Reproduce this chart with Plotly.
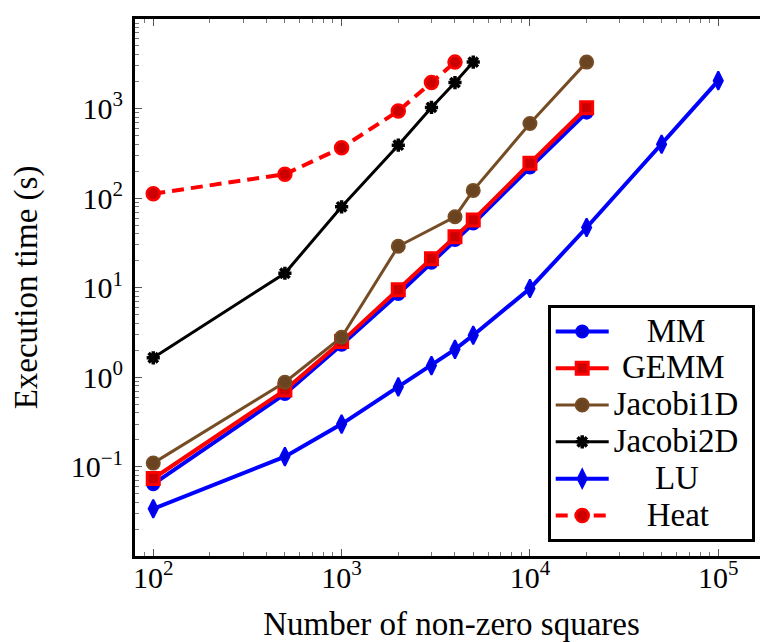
import plotly.graph_objects as go
import numpy as np

# ---- data ----
x_mm = [100, 500, 1000, 2000, 3000, 4000, 5000, 10000, 20000]
y_mm = [0.064, 0.65, 2.3, 8.5, 19, 34, 52, 220, 900]

x_gemm = [100, 500, 1000, 2000, 3000, 4000, 5000, 10000, 20000]
y_gemm = [0.074, 0.72, 2.5, 9.5, 21, 37, 57, 245, 1020]

x_j1d = [100, 500, 1000, 2000, 4000, 5000, 10000, 20000]
y_j1d = [0.11, 0.88, 2.8, 29, 62, 122, 680, 3300]

x_j2d = [100, 500, 1000, 2000, 3000, 4000, 5000]
y_j2d = [1.65, 14.5, 80, 390, 1030, 1950, 3300]

x_lu = [100, 500, 1000, 2000, 3000, 4000, 5000, 10000, 20000, 50000, 100000]
y_lu = [0.034, 0.13, 0.30, 0.78, 1.35, 2.05, 2.95, 9.8, 47, 400, 2050]

x_heat = [100, 500, 1000, 2000, 3000, 4000]
y_heat = [112, 185, 365, 940, 1950, 3300]

series_names = ["MM", "GEMM", "Jacobi1D", "Jacobi2D", "LU", "Heat"]

x_tick_vals = [1e2, 1e3, 1e4, 1e5]
x_tick_text = ["10<sup>2</sup>", "10<sup>3</sup>", "10<sup>4</sup>", "10<sup>5</sup>"]
y_tick_vals = [1e-1, 1e0, 1e1, 1e2, 1e3, 1e4]
y_tick_text = ["10<sup>\u22121</sup>", "10<sup>0</sup>", "10<sup>1</sup>",
               "10<sup>2</sup>", "10<sup>3</sup>", "10<sup>4</sup>"]

FONT = "Liberation Serif"
NB = "\u00a0"
pad = {"MM": 4, "GEMM": 1, "Jacobi1D": 0, "Jacobi2D": 0, "LU": 5, "Heat": 4}

fig = go.Figure()

def label(name):
    tail = NB if pad[name] == 0 else ""
    return "<span style='font-size:33px'>" + NB * pad[name] + name + tail + "</span>"

def add(xs, ys, name, color, center, symbol, size, lw, dash="solid", mlw=2):
    fig.add_trace(go.Scatter(
        x=xs, y=ys, mode="lines+markers", name=label(name),
        line=dict(color=color, width=lw, dash=dash),
        marker=dict(symbol=symbol, size=size, color=center,
                    line=dict(color=color, width=mlw)),
    ))

add(x_mm, y_mm, "MM", "#0000FF", "#0000DD", "circle", 12, 4)
add(x_gemm, y_gemm, "GEMM", "#FF0000", "#CC0000", "square", 12, 4, mlw=3)
add(x_j1d, y_j1d, "Jacobi1D", "#754C24", "#6A4420", "circle", 13, 3)
add(x_j2d, y_j2d, "Jacobi2D", "#000000", "#000000", "asterisk-open", 11, 3, mlw=3.5)
add(x_lu, y_lu, "LU", "#0000FF", "#0000DD", "diamond-tall", 13, 4)
add(x_heat, y_heat, "Heat", "#FF0000", "#CC0000", "circle", 13, 4,
    dash="12px,7px", mlw=2.5)

def minor_vals(lo, hi):
    v = []
    for k in range(lo, hi):
        for m in range(2, 10):
            v.append(m * 10.0 ** k)
    return v

axis_common = dict(
    type="log", showgrid=False, zeroline=False,
    showline=True, linecolor="black", linewidth=3, mirror="ticks",
    ticks="inside", ticklen=7, tickwidth=1, tickcolor="#555555",
    tickfont=dict(family=FONT, size=30, color="black"),
    tickmode="array",
)

fig.update_xaxes(
    **axis_common,
    range=[np.log10(80), 5.264],
    tickvals=x_tick_vals, ticktext=x_tick_text,
    ticklabelstandoff=-7,
    minor=dict(ticks="inside", ticklen=4, tickwidth=1, tickcolor="#777777",
               tickmode="array", tickvals=minor_vals(1, 6)),
    title=dict(text="Number of non-zero squares",
               font=dict(family=FONT, size=33, color="black"), standoff=25),
)
fig.update_yaxes(
    **axis_common,
    range=[np.log10(0.0101), 4],
    tickvals=y_tick_vals, ticktext=y_tick_text,
    ticklabelstandoff=3,
    minor=dict(ticks="inside", ticklen=4, tickwidth=1, tickcolor="#777777",
               tickmode="array", tickvals=minor_vals(-2, 4)),
    title=dict(text="Execution time (s)",
               font=dict(family=FONT, size=33, color="black"), standoff=38),
)

fig.update_layout(
    width=760, height=634,
    margin=dict(l=127, r=0, t=11, b=86, autoexpand=False),
    plot_bgcolor="white", paper_bgcolor="white",
    font=dict(family=FONT, size=30, color="black"),
    legend=dict(
        x=0.652, y=0.026, xanchor="left", yanchor="bottom",
        bgcolor="white", bordercolor="black", borderwidth=3,
        font=dict(family=FONT, size=26, color="black"),
        itemwidth=53, tracegroupgap=0,
    ),
)

fig.write_html("out.html")
